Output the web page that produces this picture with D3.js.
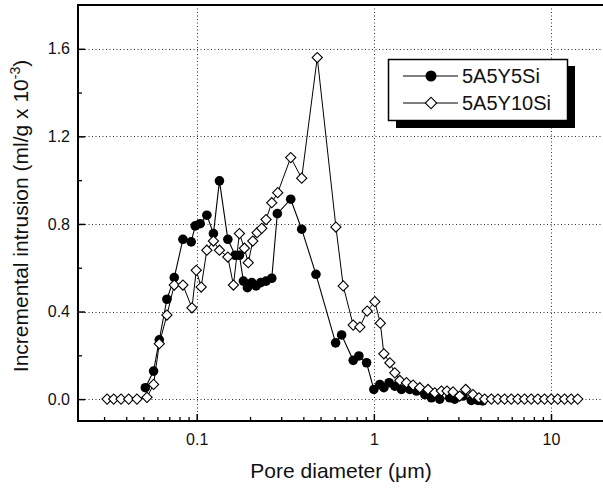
<!DOCTYPE html>
<html>
<head>
<meta charset="utf-8">
<script src="https://cdnjs.cloudflare.com/ajax/libs/d3/7.8.5/d3.min.js"></script>
<style>
  body { margin: 0; background: #fff; }
  svg { display: block; font-family: "Liberation Sans", Arial, sans-serif; }
</style>
</head>
<body>
<svg id="chart" width="603" height="490"></svg>
<script>
// pore diameter (um) and incremental intrusion (ml/g x 10^-3)
const diamA = [0.0513, 0.0571, 0.0615, 0.0679, 0.0747, 0.0836, 0.0931, 0.0981, 0.1046, 0.1141,
  0.1243, 0.1344, 0.1499, 0.1648, 0.1742, 0.1835, 0.1933, 0.2046, 0.2164, 0.2299,
  0.2463, 0.2653, 0.2852, 0.3394, 0.3914, 0.4712, 0.6083, 0.6577, 0.7646, 0.8233,
  0.9096, 1.000, 1.081, 1.139, 1.219, 1.313, 1.432, 1.595, 1.740, 1.938,
  2.114, 2.354, 2.680, 2.860, 3.185, 3.551, 3.869, 4.113];
const valA = [0.052, 0.128, 0.271, 0.456, 0.555, 0.730, 0.718, 0.791, 0.801, 0.840,
  0.756, 0.997, 0.730, 0.657, 0.657, 0.539, 0.509, 0.532, 0.517, 0.532,
  0.539, 0.552, 0.847, 0.913, 0.776, 0.570, 0.257, 0.293, 0.177, 0.197,
  0.166, 0.044, 0.067, 0.052, 0.075, 0.059, 0.044, 0.044, 0.037, 0.021,
  0.006, 0.000, 0.006, 0.000, 0.014, -0.006, -0.006, -0.008];

const diamB = [0.0312, 0.0340, 0.0374, 0.0413, 0.0460, 0.0524, 0.0571, 0.0615, 0.0679, 0.0747,
  0.0836, 0.0940, 0.0994, 0.1060, 0.1141, 0.1243, 0.1344, 0.1499, 0.1612, 0.1742,
  0.1859, 0.1954, 0.2073, 0.2192, 0.2330, 0.2463, 0.2653, 0.2867, 0.3394, 0.3914,
  0.4793, 0.6107, 0.6715, 0.7646, 0.8339, 0.9168, 1.013, 1.088, 1.139, 1.231,
  1.313, 1.401, 1.528, 1.665, 1.816, 2.023, 2.207, 2.406, 2.588, 2.798,
  3.052, 3.299, 3.626, 3.920, 4.221, 4.605, 5.015, 5.470, 5.968, 6.501,
  7.090, 7.735, 8.427, 9.192, 10.03, 10.92, 11.92, 13.00, 14.16];
const valB = [0.000, 0.000, 0.000, 0.000, 0.000, 0.008, 0.067, 0.253, 0.384, 0.521,
  0.521, 0.417, 0.588, 0.512, 0.680, 0.722, 0.680, 0.649, 0.521, 0.756,
  0.689, 0.623, 0.722, 0.760, 0.780, 0.820, 0.897, 0.943, 1.103, 1.009,
  1.560, 0.786, 0.517, 0.338, 0.329, 0.402, 0.445, 0.347, 0.207, 0.166,
  0.120, 0.085, 0.075, 0.064, 0.052, 0.044, 0.029, 0.037, 0.037, 0.033,
  0.014, 0.044, 0.021, 0.006, 0.000, 0.000, 0.000, 0.000, 0.000, 0.000,
  0.000, 0.000, 0.000, 0.000, 0.000, 0.000, 0.000, 0.000, 0.000];

const seriesNames = ["5A5Y5Si", "5A5Y10Si"];
const yTicks = [0.0, 0.4, 0.8, 1.2, 1.6];
const yMinorTicks = [0.2, 0.6, 1.0, 1.4];
const xTicks = [0.1, 1, 10];

const PLOT_LEFT = 78, PLOT_RIGHT = 606, PLOT_TOP = 5, PLOT_BOTTOM = 421;

const svg = d3.select("#chart");

const x = d3.scaleLog().domain([0.1, 10]).range([196.7, 551]);
const y = d3.scaleLinear().domain([-0.1, 1.8]).range([PLOT_BOTTOM, PLOT_TOP]);

// grid
const grid = svg.append("g")
  .attr("stroke", "#333")
  .attr("stroke-width", 1)
  .attr("stroke-dasharray", "1,2.5");
grid.selectAll(".gy").data(yTicks).join("line")
  .attr("x1", PLOT_LEFT).attr("x2", PLOT_RIGHT)
  .attr("y1", d => Math.round(y(d)) + 0.5).attr("y2", d => Math.round(y(d)) + 0.5);
grid.selectAll(".gx").data(xTicks).join("line")
  .attr("x1", d => Math.round(x(d)) + 0.5).attr("x2", d => Math.round(x(d)) + 0.5)
  .attr("y1", PLOT_TOP).attr("y2", PLOT_BOTTOM);

// x minor ticks (2..9 in each decade)
let xMinor = [];
[0.01, 0.1, 1, 10].forEach(dec => {
  for (let k = 2; k <= 9; k++) {
    const v = dec * k;
    if (x(v) > PLOT_LEFT && x(v) < PLOT_RIGHT) xMinor.push(v);
  }
});

// axes, ticks inward
const axX = d3.axisBottom(x).tickValues(xTicks).tickSize(-7).tickPadding(13)
  .tickFormat(d => d === 0.1 ? "0.1" : String(d));
const gX = svg.append("g").attr("transform", `translate(0,${PLOT_BOTTOM})`).call(axX);
gX.select(".domain").remove();
gX.selectAll(".tick line").attr("stroke-width", 1.5);
gX.selectAll("text").attr("font-size", 16).attr("fill", "#111");

const gXm = svg.append("g").attr("transform", `translate(0,${PLOT_BOTTOM})`)
  .call(d3.axisBottom(x).tickValues(xMinor).tickSize(-4).tickFormat(""));
gXm.select(".domain").remove();
gXm.selectAll(".tick line").attr("stroke-width", 1.3);

const axY = d3.axisLeft(y).tickValues(yTicks).tickSize(-7).tickPadding(8)
  .tickFormat(d3.format(".1f"));
const gY = svg.append("g").attr("transform", `translate(${PLOT_LEFT},0)`).call(axY);
gY.select(".domain").remove();
gY.selectAll(".tick line").attr("stroke-width", 1.5);
gY.selectAll("text").attr("font-size", 16).attr("fill", "#111");

const gYm = svg.append("g").attr("transform", `translate(${PLOT_LEFT},0)`)
  .call(d3.axisLeft(y).tickValues(yMinorTicks).tickSize(-4).tickFormat(""));
gYm.select(".domain").remove();
gYm.selectAll(".tick line").attr("stroke-width", 1.3);

// frame
svg.append("rect")
  .attr("x", PLOT_LEFT).attr("y", PLOT_TOP)
  .attr("width", PLOT_RIGHT - PLOT_LEFT).attr("height", PLOT_BOTTOM - PLOT_TOP)
  .attr("fill", "none").attr("stroke", "#000").attr("stroke-width", 2);

// series
const dataA = diamA.map((d, i) => [d, valA[i]]);
const dataB = diamB.map((d, i) => [d, valB[i]]);
const line = d3.line().x(d => x(d[0])).y(d => y(d[1]));

svg.append("path").datum(dataA).attr("d", line)
  .attr("fill", "none").attr("stroke", "#000").attr("stroke-width", 1.1);
svg.append("g").selectAll("circle").data(dataA).join("circle")
  .attr("cx", d => x(d[0])).attr("cy", d => y(d[1])).attr("r", 4.8)
  .attr("fill", "#000");

const diamond = d3.symbol().type(d3.symbolSquare).size(52);
svg.append("path").datum(dataB).attr("d", line)
  .attr("fill", "none").attr("stroke", "#000").attr("stroke-width", 1);
svg.append("g").selectAll("path").data(dataB).join("path")
  .attr("d", diamond)
  .attr("transform", d => `translate(${x(d[0])},${y(d[1])}) rotate(45)`)
  .attr("fill", "#fff").attr("stroke", "#000").attr("stroke-width", 1.1);

// legend with drop shadow
const lg = svg.append("g");
lg.append("rect").attr("x", 396).attr("y", 66).attr("width", 179).attr("height", 62).attr("fill", "#000");
lg.append("rect").attr("x", 388.5).attr("y", 59.5).attr("width", 179).attr("height", 61)
  .attr("fill", "#fff").attr("stroke", "#000").attr("stroke-width", 1.5);
const ly = [76, 103];
seriesNames.forEach((name, i) => {
  lg.append("line").attr("x1", 403).attr("x2", 458).attr("y1", ly[i]).attr("y2", ly[i])
    .attr("stroke", "#000").attr("stroke-width", 1);
  if (i === 0) {
    lg.append("circle").attr("cx", 431).attr("cy", ly[i]).attr("r", 5.5).attr("fill", "#000");
  } else {
    lg.append("path").attr("d", d3.symbol().type(d3.symbolSquare).size(64))
      .attr("transform", `translate(431,${ly[i]}) rotate(45)`)
      .attr("fill", "#fff").attr("stroke", "#000").attr("stroke-width", 1.1);
  }
  lg.append("text").attr("x", 462).attr("y", ly[i] + 7).attr("font-size", 20)
    .attr("fill", "#111").text(name);
});

// axis titles
svg.append("text").attr("x", 341).attr("y", 478).attr("text-anchor", "middle")
  .attr("font-size", 21).attr("fill", "#111")
  .text("Pore diameter (\u03bcm)");

const yt = svg.append("text")
  .attr("transform", "translate(28,216) rotate(-90)")
  .attr("text-anchor", "middle").attr("font-size", 21).attr("fill", "#111");
yt.append("tspan").text("Incremental intrusion (ml/g x 10");
yt.append("tspan").attr("font-size", 14).attr("dy", -8).text("-3");
yt.append("tspan").attr("dy", 8).text(")");
</script>
</body>
</html>
